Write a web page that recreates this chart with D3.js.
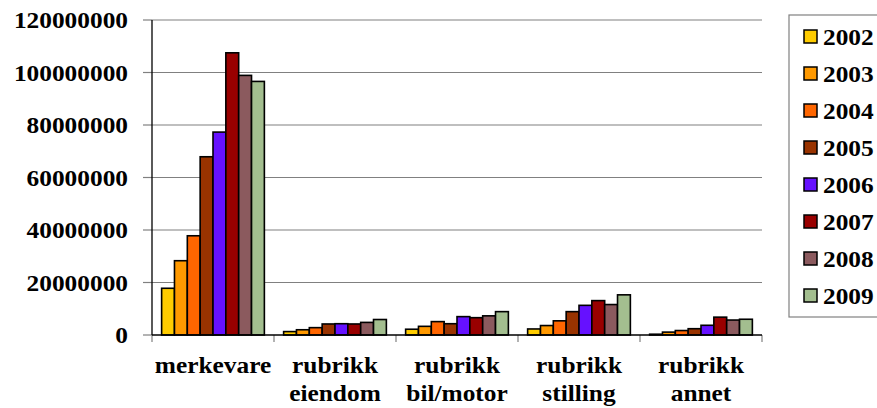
<!DOCTYPE html>
<html><head><meta charset="utf-8">
<script src="https://cdn.jsdelivr.net/npm/d3@7"></script>
<style>body{margin:0;background:#fff}svg{display:block}</style>
</head><body><svg id="c" width="877" height="408"></svg>
<script>
const categories = [["merkevare"],["rubrikk","eiendom"],["rubrikk","bil/motor"],["rubrikk","stilling"],["rubrikk","annet"]];
const years = ["2002","2003","2004","2005","2006","2007","2008","2009"];
const colors = ["#FFCC00","#FF9900","#FF6600","#993300","#6611FF","#990000","#8B5A5E","#A3BE8F"];
const v2002 = [17800000,1300000,2200000,2300000,300000];
const v2003 = [28300000,2000000,3300000,3600000,1100000];
const v2004 = [37800000,2800000,5100000,5400000,1700000];
const v2005 = [67900000,4200000,4300000,8900000,2400000];
const v2006 = [77300000,4300000,7000000,11300000,3700000];
const v2007 = [107500000,4200000,6600000,13100000,6800000];
const v2008 = [98900000,4800000,7300000,11600000,5700000];
const v2009 = [96600000,5900000,8900000,15300000,6000000];
const series = [v2002,v2003,v2004,v2005,v2006,v2007,v2008,v2009];
const yTicks = [0,20000000,40000000,60000000,80000000,100000000,120000000];

const FONT = "'Liberation Serif', 'Times New Roman', 'DejaVu Serif', serif";
const FS = 23.5;
const svg = d3.select("#c").attr("font-family",FONT).attr("font-weight","bold");
const X0=152, X1=762, Y0=335, Y1=20;
const x = d3.scaleBand().domain(d3.range(categories.length)).range([X0,X1]).paddingInner(0).paddingOuter(0);
const y = d3.scaleLinear().domain([0,120000000]).range([Y0,Y1]);
const bw = x.bandwidth()/9.5;
const sx = 1.08;

// gridlines
svg.append("g").selectAll("line").data(yTicks.slice(1)).join("line")
  .attr("x1",X0).attr("x2",X1).attr("y1",d=>y(d)).attr("y2",d=>y(d))
  .attr("stroke","#808080").attr("stroke-width",1.2);
// y ticks
svg.append("g").selectAll("line").data(yTicks).join("line")
  .attr("x1",X0-9).attr("x2",X0).attr("y1",d=>y(d)).attr("y2",d=>y(d))
  .attr("stroke","#808080").attr("stroke-width",1.2);
// y labels
svg.append("g").selectAll("text").data(yTicks).join("text")
  .attr("transform",d=>`translate(128,${y(d)}) scale(${sx},1)`)
  .attr("text-anchor","end").attr("dy","0.35em").attr("font-size",FS)
  .attr("font-family",FONT).attr("font-weight","bold")
  .text(d=>d3.format("d")(d));
// x ticks
svg.append("g").selectAll("line").data(d3.range(categories.length+1)).join("line")
  .attr("x1",i=>X0+i*x.bandwidth()).attr("x2",i=>X0+i*x.bandwidth())
  .attr("y1",Y0).attr("y2",Y0+7).attr("stroke","#808080").attr("stroke-width",1.2);

// bars
const g = svg.append("g");
series.forEach((s,si)=>{
  g.selectAll(null).data(s).join("rect")
    .attr("x",(d,i)=>x(i)+bw*0.75+si*bw)
    .attr("y",d=>y(d)).attr("width",bw).attr("height",d=>Y0-y(d))
    .attr("fill",colors[si]).attr("stroke","#000").attr("stroke-width",1.6);
});
// axes lines
svg.append("line").attr("x1",X0).attr("x2",X0).attr("y1",Y1).attr("y2",Y0).attr("stroke","#000").attr("stroke-width",1.3);
svg.append("line").attr("x1",X0).attr("x2",X1).attr("y1",Y0).attr("y2",Y0).attr("stroke","#000").attr("stroke-width",1.3);

// x labels
const xl = svg.append("g").selectAll("g").data(categories).join("g")
  .attr("transform",(d,i)=>`translate(${x(i)+x.bandwidth()/2},0)`);
xl.selectAll("text").data(d=>d).join("text")
  .attr("transform",(d,j)=>`translate(0,${373+j*28}) scale(${sx},1)`)
  .attr("text-anchor","middle").attr("font-size",FS)
  .attr("font-family",FONT).attr("font-weight","bold").text(d=>d);

// legend
svg.append("rect").attr("x",789).attr("y",15).attr("width",100).attr("height",302)
  .attr("fill","#fff").attr("stroke","#808080").attr("stroke-width",1.2);
const lg = svg.append("g").selectAll("g").data(years).join("g")
  .attr("transform",(d,i)=>`translate(0,${36.5+i*37})`);
lg.append("rect").attr("x",804).attr("y",-6.5).attr("width",13).attr("height",13)
  .attr("fill",(d,i)=>colors[i]).attr("stroke","#000").attr("stroke-width",1.5);
lg.append("text").attr("transform",`translate(823,0) scale(${sx},1)`).attr("dy","0.35em")
  .attr("font-size",FS).attr("font-family",FONT).attr("font-weight","bold").text(d=>d);
</script></body></html>
